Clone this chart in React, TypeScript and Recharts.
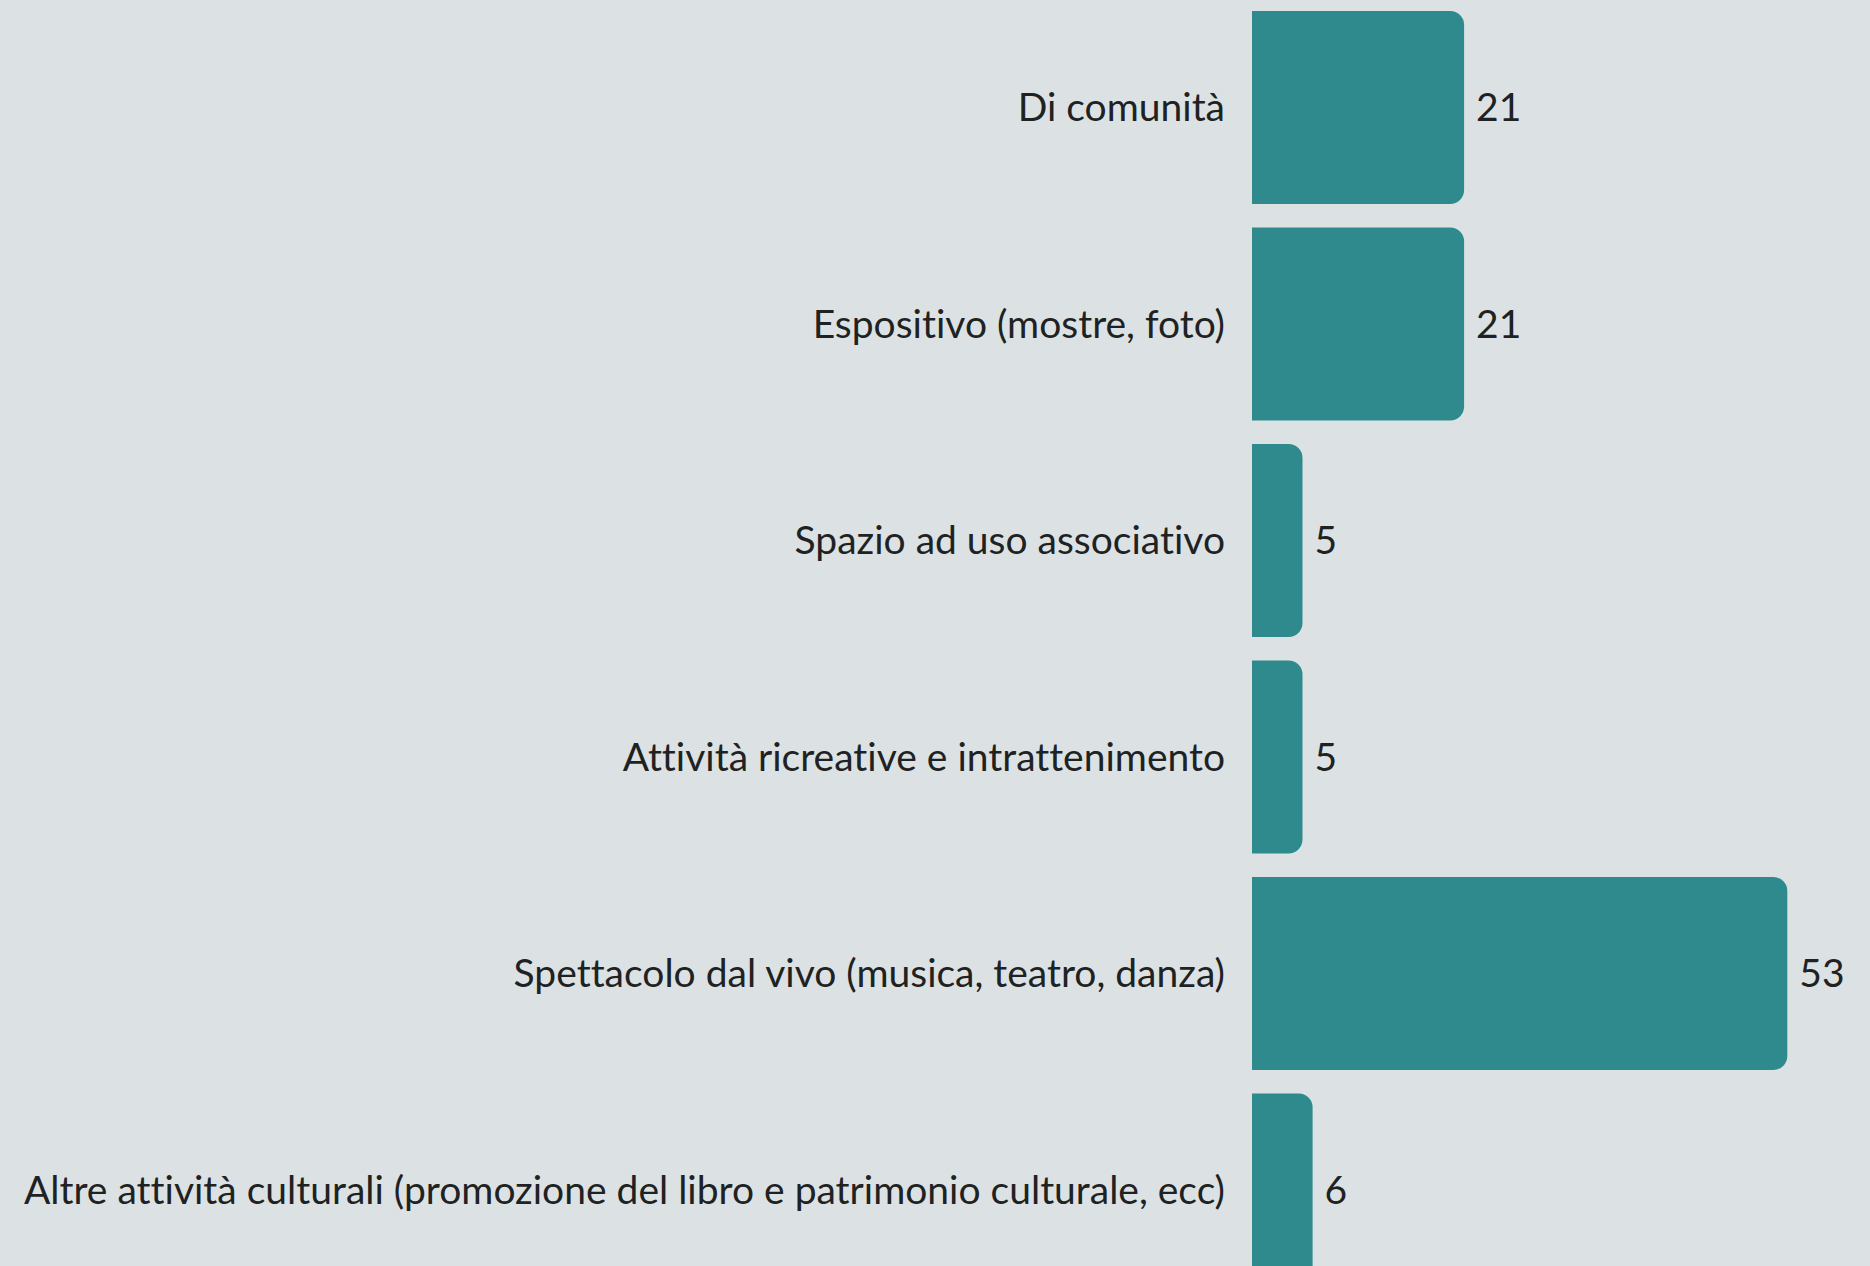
import { Bar, BarChart, LabelList, XAxis, YAxis } from "recharts"

const categories = [
    "Di comunità",
    "Espositivo (mostre, foto)",
    "Spazio ad uso associativo",
    "Attività ricreative e intrattenimento",
    "Spettacolo dal vivo (musica, teatro, danza)",
    "Altre attività culturali (promozione del libro e patrimonio culturale, ecc)",
]

const counts = [21, 21, 5, 5, 53, 6]

const data = categories.map((name, i) => ({ name, value: counts[i] }))

const FONT = "Lato, sans-serif"
const TEXT = "#1f2223"

const App = () => {
    return (
        <div
            style={{
                position: "fixed",
                left: 0,
                top: 0,
                width: 1870,
                height: 1266,
                overflow: "hidden",
                background: "#dce2e4",
                fontVariantLigatures: "none",
            }}
        >
            <div style={{ position: "absolute", left: 0, top: -1 }}>
                <BarChart
                    width={1870}
                    height={1299}
                    data={data}
                    layout="vertical"
                    margin={{ top: 0, right: 12, bottom: 0, left: 0 }}
                >
                    <XAxis type="number" domain={[0, 60]} hide />
                    <YAxis
                        type="category"
                        dataKey="name"
                        width={1252}
                        axisLine={false}
                        tickLine={false}
                        tickSize={0}
                        tickMargin={27}
                        interval={0}
                        tick={{ fill: TEXT, fontSize: 39, fontFamily: FONT }}
                    />
                    <Bar
                        dataKey="value"
                        fill="#2e8a8c"
                        barSize={193}
                        radius={[0, 14, 14, 0]}
                        isAnimationActive={false}
                    >
                        <LabelList
                            dataKey="value"
                            position="right"
                            offset={12}
                            fill={TEXT}
                            fontSize={39}
                            fontFamily={FONT}
                        />
                    </Bar>
                </BarChart>
            </div>
        </div>
    )
}

export default App
